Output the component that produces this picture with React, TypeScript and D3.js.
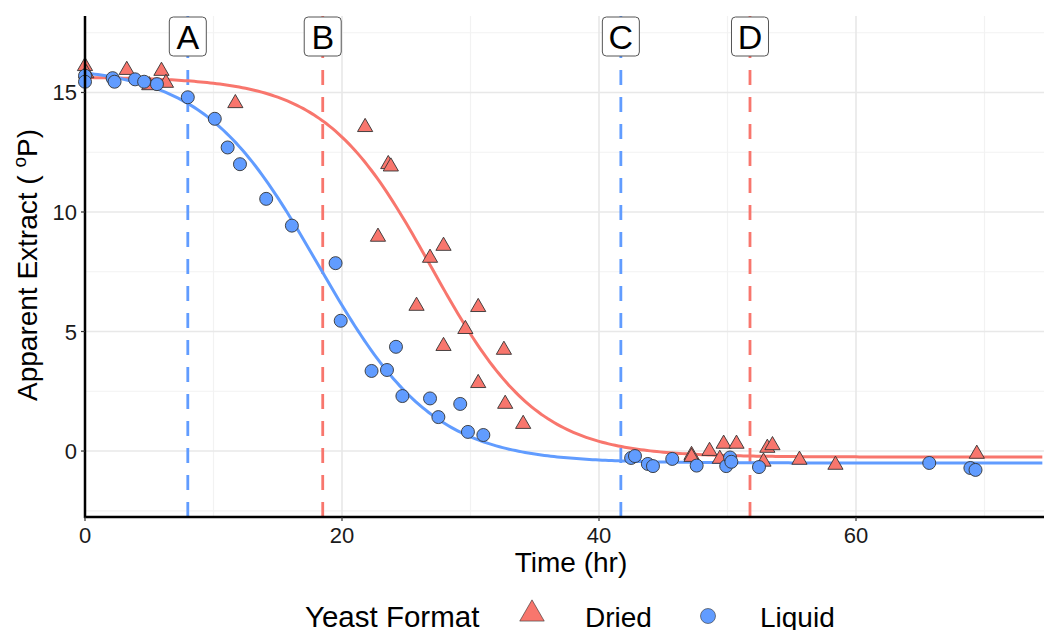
import React from "react";
import * as d3 from "d3";

const driedTime = [0, 0.1, 3.25, 5.0, 5.95, 6.3, 11.7, 21.8, 23.6, 23.8, 22.8, 26.85, 27.9, 25.8, 30.6, 29.6, 27.9, 32.6, 30.6, 32.7, 34.1, 47.2, 47.2, 48.6, 49.7, 49.4, 50.7, 53.1, 53.5, 52.8, 55.6, 58.4, 69.4];
const driedValue = [16.1, 15.8, 15.94, 15.3, 15.9, 15.4, 14.55, 13.55, 12.0, 11.9, 8.96, 8.08, 8.58, 6.07, 6.02, 5.1, 4.39, 4.23, 2.84, 1.97, 1.13, -0.17, -0.25, 0.0, 0.3, -0.33, 0.3, 0.13, 0.24, -0.45, -0.37, -0.58, -0.12];

const liquidTime = [0, 0, 2.15, 2.3, 3.9, 4.6, 5.6, 8.0, 10.1, 11.1, 12.06, 14.1, 16.1, 19.5, 19.9, 24.2, 22.3, 23.5, 24.7, 26.85, 29.2, 27.5, 29.8, 31.0, 42.5, 42.8, 43.8, 44.2, 45.7, 47.6, 49.9, 50.2, 50.3, 52.45, 65.7, 68.9, 69.3];
const liquidValue = [15.7, 15.45, 15.6, 15.45, 15.55, 15.45, 15.35, 14.8, 13.9, 12.7, 12.0, 10.55, 9.43, 7.86, 5.45, 4.36, 3.35, 3.39, 2.3, 2.2, 1.97, 1.42, 0.8, 0.67, -0.29, -0.21, -0.54, -0.63, -0.33, -0.61, -0.63, -0.27, -0.45, -0.67, -0.5, -0.71, -0.79];

// fitted logistic model parameters: [top, bottom, rate, midpoint]
const driedFit = [15.65, -0.25, 0.241, 26.94];
const liquidFit = [16.1, -0.5, 0.2236, 18.14];

const markerLabels = ["A", "B", "C", "D"];
const markerTimes = [8.0, 18.5, 41.7, 51.75];
const markerSeries = ["Liquid", "Dried", "Liquid", "Dried"];

const xTicks = [0, 20, 40, 60];
const xMinor = [10, 30, 50, 70];
const yTicks = [0, 5, 10, 15];
const yMinor = [-2.5, 2.5, 7.5, 12.5, 17.5];

const RED = "#F8766D";
const BLUE = "#619CFF";
const FONT = "Liberation Sans, Arial, sans-serif";

function logistic(p: number[], t: number) {
  const [a, b, k, m] = p;
  return b + (a - b) / (1 + Math.exp(k * (t - m)));
}

export default function App() {
  const W = 1044, H = 630;
  const left = 85, right = 1044, top = 16, bottom = 517;
  const x = d3.scaleLinear().domain([0, 74.63]).range([left, right]);
  const y = d3.scaleLinear().domain([-2.76, 18.2]).range([bottom, top]);

  const ts = d3.range(0, 74.7, 0.25);
  const mk = (p: number[]) =>
    d3.line<number>().x((t) => x(t)).y((t) => y(logistic(p, t)))(ts) || "";

  const tri = d3.symbol().type(d3.symbolTriangle).size(100)() || "";
  const triLegend = d3.symbol().type(d3.symbolTriangle).size(260)() || "";

  return (
    <svg width={W} height={H} style={{ position: "absolute", left: 0, top: 0, background: "#fff" }} fontFamily={FONT}>
      <defs>
        <clipPath id="plot">
          <rect x={left} y={top} width={right - left} height={bottom - top} />
        </clipPath>
      </defs>
      {/* grid */}
      <g>
        {yMinor.map((v) => (
          <line key={"ym" + v} x1={left} x2={right} y1={y(v)} y2={y(v)} stroke="#f2f2f2" strokeWidth={1.2} />
        ))}
        {xMinor.map((v) => (
          <line key={"xm" + v} x1={x(v)} x2={x(v)} y1={top} y2={bottom} stroke="#f2f2f2" strokeWidth={1.2} />
        ))}
        {yTicks.map((v) => (
          <line key={"y" + v} x1={left} x2={right} y1={y(v)} y2={y(v)} stroke="#e8e8e8" strokeWidth={1.6} />
        ))}
        {xTicks.map((v) => (
          <line key={"x" + v} x1={x(v)} x2={x(v)} y1={top} y2={bottom} stroke="#e8e8e8" strokeWidth={1.6} />
        ))}
      </g>
      {/* vertical dashed markers */}
      {markerTimes.map((t, i) => (
        <line key={"v" + i} x1={x(t)} x2={x(t)} y1={top} y2={bottom}
          stroke={markerSeries[i] === "Dried" ? RED : BLUE} strokeWidth={2.8} strokeDasharray="15,12" />
      ))}
      {/* curves */}
      <g clipPath="url(#plot)">
        <path d={mk(driedFit)} fill="none" stroke={RED} strokeWidth={3} />
        <path d={mk(liquidFit)} fill="none" stroke={BLUE} strokeWidth={3} />
      </g>
      {/* points */}
      <g>
        {driedTime.map((t, i) => (
          <path key={"d" + i} d={tri} transform={`translate(${x(t)},${y(driedValue[i])})`}
            fill={RED} stroke="#333" strokeWidth={0.9} />
        ))}
        {liquidTime.map((t, i) => (
          <circle key={"l" + i} cx={x(t)} cy={y(liquidValue[i])} r={6.5}
            fill={BLUE} stroke="#333" strokeWidth={0.9} />
        ))}
      </g>
      {/* label boxes */}
      {markerTimes.map((t, i) => (
        <g key={"lab" + i} transform={`translate(${x(t)},0)`}>
          <rect x={-18.5} y={17} width={37} height={39} rx={4} fill="#fff" stroke="#555" strokeWidth={1} />
          <text x={0} y={49} textAnchor="middle" fontSize={34} fill="#000">{markerLabels[i]}</text>
        </g>
      ))}
      {/* axes */}
      <line x1={left} x2={left} y1={top} y2={bottom + 1} stroke="#000" strokeWidth={2.5} />
      <line x1={left - 1} x2={right} y1={bottom} y2={bottom} stroke="#000" strokeWidth={2.5} />
      {yTicks.map((v) => (
        <line key={"ytk" + v} x1={left - 4} x2={left} y1={y(v)} y2={y(v)} stroke="#333" strokeWidth={1.2} />
      ))}
      {xTicks.map((v) => (
        <line key={"xtk" + v} x1={x(v)} x2={x(v)} y1={bottom} y2={bottom + 4} stroke="#333" strokeWidth={1.2} />
      ))}
      {yTicks.map((v) => (
        <text key={"yt" + v} x={77} y={y(v) + 8} textAnchor="end" fontSize={22} fill="#1a1a1a">{v}</text>
      ))}
      {xTicks.map((v) => (
        <text key={"xt" + v} x={x(v)} y={543} textAnchor="middle" fontSize={22} fill="#1a1a1a">{v}</text>
      ))}
      <text x={571} y={572} textAnchor="middle" fontSize={28} fill="#000">Time (hr)</text>
      <text transform="translate(37,265) rotate(-90)" textAnchor="middle" fontSize={28} fill="#000">
        Apparent Extract ( <tspan fontSize={19} dy={-11}>o</tspan><tspan dy={11}>P)</tspan>
      </text>
      {/* legend */}
      <text x={305} y={627} fontSize={29.5} fill="#000">Yeast Format</text>
      <path d={triLegend} transform="translate(532,614)" fill={RED} stroke="#333" strokeWidth={0.6} />
      <text x={585} y={627} fontSize={28} fill="#000">Dried</text>
      <circle cx={708} cy={616} r={7.5} fill={BLUE} stroke="#333" strokeWidth={0.6} />
      <text x={760} y={627} fontSize={28} fill="#000">Liquid</text>
    </svg>
  );
}
